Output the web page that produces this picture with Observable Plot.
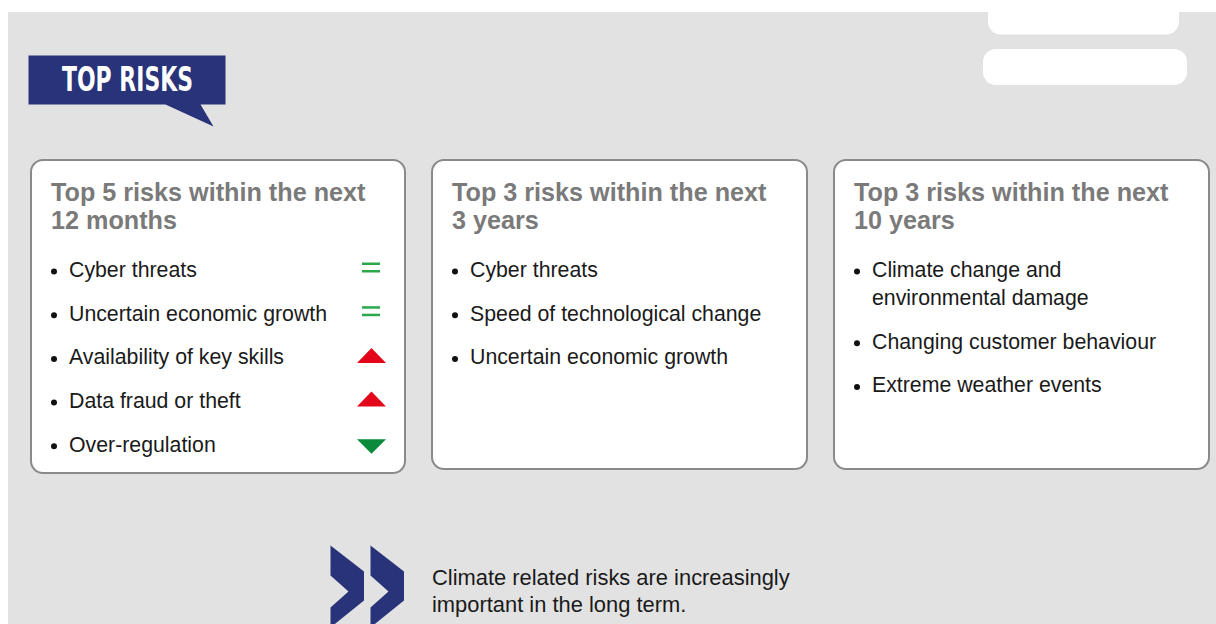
<!DOCTYPE html>
<html><head><meta charset="utf-8">
<script src="https://cdn.jsdelivr.net/npm/d3@7"></script>
<script src="https://cdn.jsdelivr.net/npm/@observablehq/plot@0.6"></script>
<style>
html,body{margin:0;padding:0;background:#fff;overflow:hidden;}
</style></head><body><div id="chart"></div>
<script>
// ---------------- data ----------------
const bannerLabel = ["TOP RISKS"];
const panelTitles = [
  "Top 5 risks within the next\n12 months",
  "Top 3 risks within the next\n3 years",
  "Top 3 risks within the next\n10 years"
];
const risks12Months = ["Cyber threats", "Uncertain economic growth", "Availability of key skills", "Data fraud or theft", "Over-regulation"];
const trends12Months = ["unchanged", "unchanged", "up", "up", "down"];
const risks3Years = ["Cyber threats", "Speed of technological change", "Uncertain economic growth"];
const risks10Years = ["Climate change and\nenvironmental damage", "Changing customer behaviour", "Extreme weather events"];
const footnote = ["Climate related risks are increasingly\nimportant in the long term."];

// ---------------- layout ----------------
const W = 1216, H = 624;
const FONT = "'Liberation Sans', Arial, Helvetica, sans-serif";
const NAVY = "#28337a", GREY_BG = "#e2e2e2";
const RED = "#e3061b", GREEN_EQ = "#2aa84a", GREEN_DN = "#0b8a3b";
const panelLeft = [31, 432, 834], panelRight = [405, 807, 1209];
const panelTop = 160, panelBottom = [473, 469, 469];
const titleBaseline = 228, titleSize = 25.2, titleLH = 28;
const itemSize = 21.3, itemLH = 28, itemGap = 43.7, firstItemBaseline = 276.5;

const panelItems = [risks12Months, risks3Years, risks10Years];
const panelTrends = [trends12Months, [], []];

const panels = panelTitles.map((t, p) => ({
  title: t, x1: panelLeft[p], x2: panelRight[p], y1: panelTop, y2: panelBottom[p],
  tx: panelLeft[p] + 19.5, ty: titleBaseline
}));

const items = [];
panelItems.forEach((list, p) => {
  let b = firstItemBaseline;
  list.forEach((label, i) => {
    const n = label.split("\n").length;
    const last = b + (n - 1) * itemLH;
    items.push({panel: p, label, trend: panelTrends[p][i], first: b, last,
      bx: panelLeft[p] + 22.5, tx: panelLeft[p] + 37.5, ix: panelLeft[p] + 340});
    b = last + itemGap;
  });
});

// trend icons
const eqBars = [];
const triUp = [], triDown = [];
items.filter(d => d.trend).forEach((d, k) => {
  const cx = d.ix, b = d.first;
  if (d.trend === "unchanged") {
    eqBars.push({x1: cx - 9, x2: cx + 9, y1: b - 14, y2: b - 11.5});
    eqBars.push({x1: cx - 9, x2: cx + 9, y1: b - 6.5, y2: b - 4});
  } else if (d.trend === "up") {
    triUp.push({id: k, x: cx - 14.5, y: b - 1.5}, {id: k, x: cx, y: b - 16.5}, {id: k, x: cx + 14.5, y: b - 1.5});
  } else {
    triDown.push({id: k, x: cx - 14.5, y: b - 12.5}, {id: k, x: cx, y: b + 2}, {id: k, x: cx + 14.5, y: b - 12.5});
  }
});

// banner with speech tail
const bannerShape = [[28,55],[225,55],[225,104],[200,104],[213,126],[165,104],[28,104]].map(([x,y]) => ({x, y}));
// double chevron
const chevronTemplate = [[0,545],[33.5,571],[33.5,600],[0,627],[0,607],[18,591],[0,575]];
const chevrons = [];
[330, 370].forEach((ox, k) => chevronTemplate.forEach(([x, y]) => chevrons.push({id: k, x: ox + x, y})));
// decorative white pills at top right
const pills = [
  {x1: 988, x2: 1179, y1: 0, y2: 34.5},
  {x1: 983, x2: 1187, y1: 49, y2: 85}
];

const chart = Plot.plot({
  width: W, height: H,
  marginTop: 0, marginRight: 0, marginBottom: 0, marginLeft: 0,
  x: {domain: [0, W], range: [0, W], axis: null},
  y: {domain: [0, H], range: [0, H], axis: null},
  style: {background: "#ffffff", fontFamily: FONT},
  marks: [
    Plot.rect([{x1: 8, x2: W, y1: 12, y2: H}], {x1: "x1", x2: "x2", y1: "y1", y2: "y2", fill: GREY_BG}),
    Plot.rect(pills, {x1: "x1", x2: "x2", y1: "y1", y2: "y2", fill: "#ffffff", rx: 13}),
    Plot.line(bannerShape, {x: "x", y: "y", fill: NAVY, stroke: "none"}),
    Plot.text(bannerLabel, {x: () => 127, y: () => 90, text: d => d, fill: "#ffffff",
      fontFamily: "'Liberation Sans Narrow', 'DejaVu Sans Condensed', 'Liberation Sans', sans-serif",
      fontWeight: "bold", fontSize: 33, lineAnchor: "bottom", textAnchor: "middle"}),
    Plot.rect(panels, {x1: "x1", x2: "x2", y1: "y1", y2: "y2", fill: "#ffffff", stroke: "#8a8a8a", strokeWidth: 2, rx: 12}),
    Plot.text(panels, {x: "tx", y: "ty", text: "title", fill: "#7a7a7a", fontWeight: "bold",
      fontSize: titleSize, lineHeight: titleLH / titleSize, lineAnchor: "bottom", textAnchor: "start", fontFamily: FONT}),
    Plot.dot(items, {x: "bx", y: d => d.first - 5.5, r: 3, fill: "#111111", stroke: "none"}),
    Plot.text(items, {x: "tx", y: "last", text: "label", fill: "#1a1a1a", fontSize: itemSize,
      lineHeight: itemLH / itemSize, lineAnchor: "bottom", textAnchor: "start", fontFamily: FONT}),
    Plot.rect(eqBars, {x1: "x1", x2: "x2", y1: "y1", y2: "y2", fill: GREEN_EQ}),
    Plot.line(triUp, {x: "x", y: "y", z: "id", fill: RED, stroke: "none"}),
    Plot.line(triDown, {x: "x", y: "y", z: "id", fill: GREEN_DN, stroke: "none"}),
    Plot.line(chevrons, {x: "x", y: "y", z: "id", fill: NAVY, stroke: "none"}),
    Plot.text(footnote, {x: () => 431.5, y: () => 611, text: d => d, fill: "#1a1a1a", fontSize: 21.9,
      lineHeight: 26.5 / 21.9, lineAnchor: "bottom", textAnchor: "start", fontFamily: FONT})
  ]
});
document.getElementById("chart").appendChild(chart);
// fit the condensed banner label to its box width
d3.select(chart).selectAll("text").filter(function () { return this.textContent === bannerLabel[0]; })
  .attr("textLength", 131).attr("lengthAdjust", "spacingAndGlyphs");
</script>
</body></html>
